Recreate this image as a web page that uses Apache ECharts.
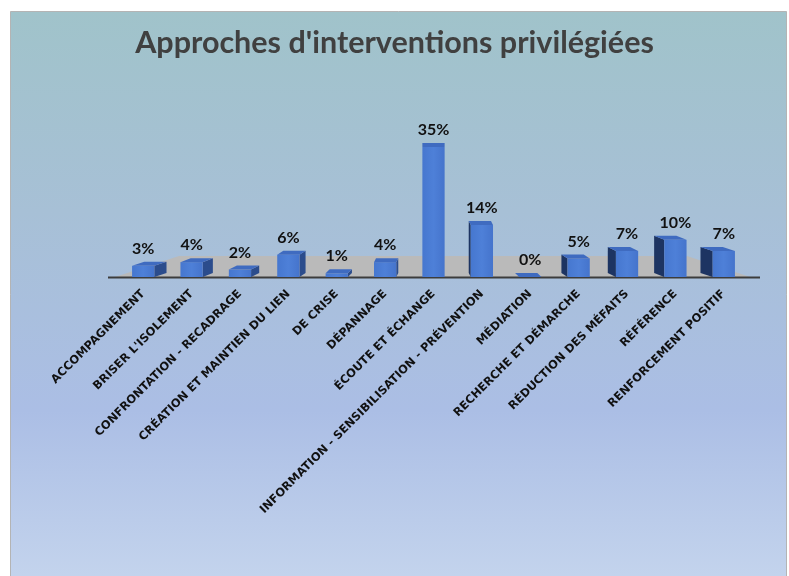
<!DOCTYPE html>
<html><head><meta charset="utf-8">
<script src="https://cdn.jsdelivr.net/npm/echarts@6/dist/echarts.min.js"></script>
<style>html,body{margin:0;padding:0;background:#fff}#c{width:789px;height:576px}</style>
</head><body><div id="c"></div>
<script>
const titleText = "Approches d'interventions privilégiées";
const categories = [
  "ACCOMPAGNEMENT", "BRISER L'ISOLEMENT", "CONFRONTATION - RECADRAGE",
  "CRÉATION ET MAINTIEN DU LIEN", "DE CRISE", "DÉPANNAGE", "ÉCOUTE ET ÉCHANGE",
  "INFORMATION - SENSIBILISATION - PRÉVENTION", "MÉDIATION", "RECHERCHE ET DÉMARCHE",
  "RÉDUCTION DES MÉFAITS", "RÉFÉRENCE", "RENFORCEMENT POSITIF"
];
const values = [3, 4, 2, 6, 1, 4, 35, 14, 0, 5, 7, 10, 7];

const chart = echarts.init(document.getElementById('c'));

function renderBar(params, api) {
  const idx = api.value(0), val = api.value(1);
  const base = api.coord([idx, 0]);
  const top = api.coord([idx, val]);
  const bw = api.size([1, 0])[0] * 0.46;
  const cx = base[0], x0 = cx - bw / 2, x1 = cx + bw / 2;
  const cs = params.coordSys;
  const center = cs.x + cs.width / 2;
  const dx = (center - cx) * 0.042, dy = -4;
  const children = [];
  if (Math.abs(dx) > 0.5) {
    const sx = dx > 0 ? x1 : x0;
    children.push({type: 'polygon', shape: {points: [[sx, top[1]], [sx + dx, top[1] + dy], [sx + dx, base[1] + dy], [sx, base[1]]]},
      style: {fill: dx > 0 ? '#2b4c8c' : '#1d3462'}});
  }
  children.push({type: 'rect', shape: {x: x0, y: top[1], width: bw, height: base[1] - top[1]},
    style: {fill: new echarts.graphic.LinearGradient(0, 0, 1, 0, [{offset: 0, color: '#4677cf'}, {offset: 0.5, color: '#4e80d8'}, {offset: 1, color: '#4574cc'}])}});
  children.push({type: 'polygon', shape: {points: [[x0, top[1]], [x1, top[1]], [x1 + dx, top[1] + dy], [x0 + dx, top[1] + dy]]},
    style: {fill: '#3f6bc0'}});
  children.push({type: 'text', style: {text: val + '%', x: cx, y: top[1] - 9, align: 'center', verticalAlign: 'bottom',
    fontFamily: 'Lato', fontWeight: 'bold', fontSize: 16, fill: '#111'}});
  return {type: 'group', children: children};
}

function renderFloor(params, api) {
  const cs = params.coordSys;
  const l = cs.x, r = cs.x + cs.width, b = cs.y + cs.height;
  return {type: 'group', children: [
    {type: 'polygon', shape: {points: [[l - 4, b], [l + 60, b - 21], [r - 61, b - 21], [r + 2, b]]}, style: {fill: '#bababa'}},
    {type: 'line', shape: {x1: l - 11, y1: b + 0.5, x2: r + 12, y2: b + 0.5}, style: {stroke: '#3c3c3c', lineWidth: 2}}
  ]};
}

chart.setOption({
  animation: false,
  graphic: [{type: 'rect', z: -10, shape: {x: 10.5, y: 11.5, width: 776, height: 570},
    style: {stroke: '#b4b4b4', lineWidth: 1,
      fill: new echarts.graphic.LinearGradient(0, 0, 0, 1, [
        {offset: 0, color: '#a0c3ca'}, {offset: 0.35, color: '#a7c0d6'},
        {offset: 0.7, color: '#abbee5'}, {offset: 1, color: '#c4d4ed'}])}}],
  title: {text: titleText, left: 'center', top: 23,
    textStyle: {fontFamily: 'Lato', fontWeight: 'bold', fontSize: 30.5, color: '#404040'}},
  grid: {left: 119, right: 41, top: 128.4, bottom: 299, containLabel: false},
  xAxis: {type: 'category', data: categories,
    axisLine: {show: false}, axisTick: {show: false},
    axisLabel: {interval: 0, rotate: 45, margin: 15, fontFamily: 'DejaVu Sans', fontWeight: 'bold', fontSize: 11.5, color: '#111'}},
  yAxis: {type: 'value', min: 0, max: 40, show: false, splitLine: {show: false}},
  series: [
    {type: 'custom', renderItem: renderFloor, data: [[0, 0]], z: 1, silent: true},
    {type: 'custom', renderItem: renderBar, data: values.map((v, i) => [i, v]), z: 2}
  ]
});
</script></body></html>
